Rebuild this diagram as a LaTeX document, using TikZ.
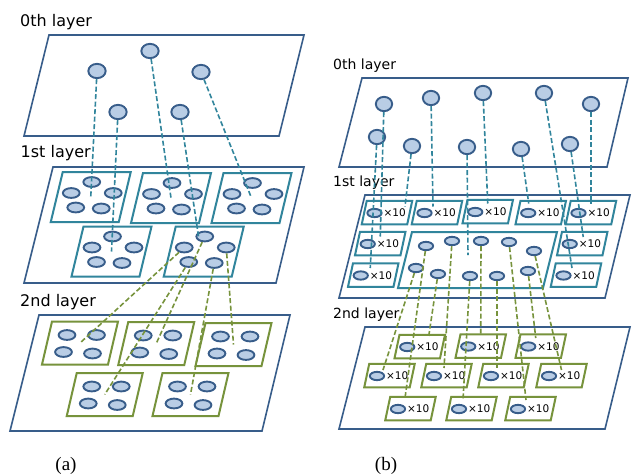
\documentclass[tikz,border=0pt]{standalone}
\usepackage{fontspec}
\setmainfont{DejaVu Sans}
\newfontfamily\capfont{Liberation Serif}
\usetikzlibrary{calc,shapes.geometric}

\definecolor{layerblue}{HTML}{385D8A}
\definecolor{ellfill}{HTML}{B9CDE5}
\definecolor{tealc}{HTML}{31859C}
\definecolor{greenc}{HTML}{77933C}

% parallelogram: #1 style, #2 name of centre, #3/#4 centre, #5 half width, #6 half height, #7 half slant
\newcommand{\plg}[7]{%
  \coordinate (#2) at (#3,#4);
  \draw[#1] ($(#2)+(-#5+#7,-#6)$) -- ($(#2)+(#5+#7,-#6)$) -- ($(#2)+(#5-#7,#6)$) -- ($(#2)+(-#5-#7,#6)$) -- cycle;}

% first-level group of five units
\newcommand{\fivegrp}[1]{%
  \node[smallell] (#1t) at ($(#1)+(1,-15)$) {};
  \node[smallell] (#1l) at ($(#1)+(-19.5,-4)$) {};
  \node[smallell] (#1r) at ($(#1)+(22.5,-4)$) {};
  \node[smallell] (#1a) at ($(#1)+(-15,10.5)$) {};
  \node[smallell] (#1b) at ($(#1)+(10.5,11.5)$) {};}

% second-level group of four units
\newcommand{\fourgrp}[1]{%
  \node[smallell] (#1p) at ($(#1)+(-13,-8)$) {};
  \node[smallell] (#1q) at ($(#1)+(16.5,-8)$) {};
  \node[smallell] (#1r) at ($(#1)+(-16.5,9)$) {};
  \node[smallell] (#1s) at ($(#1)+(12.5,10.5)$) {};}

% box holding one unit repeated ten times: #1 style, #2 name, #3/#4 centre
\newcommand{\tenbox}[4]{%
  \plg{#1}{#2}{#3}{#4}{22.75}{11.75}{2.5}
  \node[tinyell] (#2e) at ($(#2)+(-12.5,0.5)$) {};
  \node[tenlbl] (#2n) at ($(#2e.east)+(0.8,0)$) {×10};}

\begin{document}
\begin{tikzpicture}[x=1pt,y=-1pt,
  layer/.style={draw=layerblue,line width=1.6pt,fill=white},
  tealbox/.style={draw=tealc,line width=2pt,fill=white},
  greenbox/.style={draw=greenc,line width=2pt,fill=white},
  unit/.style={ellipse,draw=layerblue,fill=ellfill,line width=1.9pt,inner sep=0pt},
  bigell/.style={unit,minimum width=17.3pt,minimum height=14.3pt},
  bigellb/.style={unit,minimum width=16.3pt,minimum height=14.3pt},
  smallell/.style={unit,minimum width=16.8pt,minimum height=9.8pt},
  tinyell/.style={unit,minimum width=14.3pt,minimum height=8.3pt},
  tenlbl/.style={anchor=west,inner sep=0pt,font=\fontsize{10.5}{12}\selectfont},
  lbla/.style={anchor=base west,inner sep=0pt,font=\fontsize{16}{19}\selectfont},
  lblb/.style={anchor=base west,inner sep=0pt,font=\fontsize{14}{17}\selectfont},
  caption/.style={anchor=base,inner sep=0pt,font=\capfont\fontsize{19}{22}\selectfont},
  tealdash/.style={draw=tealc,line width=1.6pt,dash pattern=on 5pt off 2.5pt},
  greendash/.style={draw=greenc,line width=1.6pt,dash pattern=on 5pt off 2.5pt}]
\useasboundingbox (0,0) rectangle (632,475);

% ---------------- (a) ----------------
\node[lbla] (la0) at (20,26) {0th layer};
\node[lbla] (la1) at (20.5,157.5) {1st layer};
\node[lbla] (la2) at (20,306) {2nd layer};
\node[caption] (capa) at (66,470) {(a)};

\draw[layer] (49,35) -- (304,35) -- (279,136) -- (24,136) -- cycle;
\node[bigell] (a0a) at (150,51) {};
\node[bigell] (a0b) at (97,71) {};
\node[bigell] (a0c) at (201,72) {};
\node[bigell] (a0d) at (118,112) {};
\node[bigell] (a0e) at (180,112) {};

\draw[layer] (53,167) -- (304,167) -- (276,283) -- (24,283) -- cycle;
\plg{tealbox}{s1}{90.75}{197}{34}{25}{6}
\plg{tealbox}{s2}{171}{198}{34}{25}{6}
\plg{tealbox}{s3}{251.5}{198}{34}{25}{6}
\plg{tealbox}{s4}{111.5}{251.5}{34}{25}{6}
\plg{tealbox}{s5}{203.75}{251.5}{34}{25}{6}
\fivegrp{s1}\fivegrp{s2}\fivegrp{s3}\fivegrp{s4}\fivegrp{s5}

\draw[layer] (39,315) -- (290,315) -- (262,431) -- (10,431) -- cycle;
\plg{greenbox}{g1}{80}{343}{33}{21.5}{5}
\plg{greenbox}{g2}{156.25}{343.5}{33}{21.5}{5}
\plg{greenbox}{g3}{233.5}{344.5}{33}{21.5}{5}
\plg{greenbox}{g4}{104.75}{394.5}{33}{21.5}{5}
\plg{greenbox}{g5}{190.5}{394.5}{33}{21.5}{5}
\fourgrp{g1}\fourgrp{g2}\fourgrp{g3}\fourgrp{g4}\fourgrp{g5}

\coordinate (s5k) at ($(s5)+(-5,-13.5)$);
\draw[tealdash] (a0b) -- (s1);
\draw[tealdash] (a0d) -- (s4);
\draw[tealdash] (a0a) -- (s2);
\draw[tealdash] (a0e) -- (s5k);
\draw[tealdash] (a0c) -- (s3);

\draw[greendash] (s5t) -- (g2);
\draw[greendash] (s5l) -- (g1);
\draw[greendash] (s5a) -- (g4);
\draw[greendash] (s5b) -- (g5);
\draw[greendash] (s5r) -- (g3);

% ---------------- (b) ----------------
\node[lblb] (lb0) at (333,69.5) {0th layer};
\node[lblb] (lb1) at (333,186.5) {1st layer};
\node[lblb] (lb2) at (333,318) {2nd layer};
\node[caption] (capb) at (386,470) {(b)};

\draw[layer] (362,78) -- (628,78) -- (607,167) -- (339,167) -- cycle;
\node[bigellb] (t1) at (384,104) {};
\node[bigellb] (t2) at (431,98) {};
\node[bigellb] (t3) at (483,93) {};
\node[bigellb] (t4) at (544,93) {};
\node[bigellb] (t5) at (591,104) {};
\node[bigellb] (u1) at (377,137) {};
\node[bigellb] (u2) at (412,146) {};
\node[bigellb] (u3) at (467,147) {};
\node[bigellb] (u4) at (521,149) {};
\node[bigellb] (u5) at (570,144) {};

\draw[layer] (365,195) -- (630,195) -- (605,298) -- (339,298) -- cycle;
\tenbox{tealbox}{A1}{387}{212.5}
\tenbox{tealbox}{A2}{437}{212.5}
\tenbox{tealbox}{A3}{487.75}{211.5}
\tenbox{tealbox}{A4}{540.75}{212.5}
\tenbox{tealbox}{A5}{591}{212.5}
\tenbox{tealbox}{B1}{380.25}{243.5}
\tenbox{tealbox}{B2}{582.25}{243.5}
\tenbox{tealbox}{C1}{373.25}{275}
\tenbox{tealbox}{C2}{576}{275}
\plg{tealbox}{BB}{477.5}{260}{72.5}{28}{7}
\node[tinyell] (e1) at (426,246) {};
\node[tinyell] (e2) at (452,241) {};
\node[tinyell] (e3) at (481,241) {};
\node[tinyell] (e4) at (509,242) {};
\node[tinyell] (e5) at (534,251) {};
\node[tinyell] (e6) at (416,268) {};
\node[tinyell] (e7) at (438,274) {};
\node[tinyell] (e8) at (470,276) {};
\node[tinyell] (e9) at (497,276) {};
\node[tinyell] (e10) at (528,271) {};

\draw[layer] (365,327) -- (630,327) -- (605,429) -- (339,429) -- cycle;
\tenbox{greenbox}{D1}{419.75}{346.5}
\tenbox{greenbox}{D2}{480.75}{346}
\tenbox{greenbox}{D3}{540.75}{346}
\tenbox{greenbox}{E1}{389.5}{375.5}
\tenbox{greenbox}{E2}{446.5}{375.5}
\tenbox{greenbox}{E3}{503.5}{375.5}
\tenbox{greenbox}{E4}{561.5}{375.5}
\tenbox{greenbox}{F1}{410.5}{408.5}
\tenbox{greenbox}{F2}{471.5}{408.5}
\tenbox{greenbox}{F3}{530.5}{408.5}

% ends of the links into the first level
\coordinate (kC1) at ($(C1)+(-3,-7)$);
\coordinate (kB1) at ($(B1)+(0,-7)$);
\coordinate (kA1) at ($(A1)+(18,-6)$);
\coordinate (kA2) at ($(A2)+(-4,-6)$);
\coordinate (kBB) at ($(BB)+(-9.5,-5)$);
\coordinate (kA3) at ($(A3)+(0,-8)$);
\coordinate (kA4) at ($(A4)+(-12,-9)$);
\coordinate (kC2) at ($(C2)+(-4,-7)$);
\coordinate (kB2) at ($(B2)+(1,-6.5)$);
\coordinate (kA5) at ($(A5)+(0,-8.5)$);
\draw[tealdash] (u1) -- (kC1);
\draw[tealdash] (t1) -- (kB1);
\draw[tealdash] (u2) -- (kA1);
\draw[tealdash] (t2) -- (kA2);
\draw[tealdash] (u3) -- (kBB);
\draw[tealdash] (t3) -- (kA3);
\draw[tealdash] (u4) -- (kA4);
\draw[tealdash] (t4) -- (kC2);
\draw[tealdash] (u5) -- (kB2);
\draw[tealdash] (t5) -- (kA5);

% ends of the links into the second level
\coordinate (kE1) at ($(E1)+(-6.5,-5.5)$);
\coordinate (kF1) at ($(F1)+(-5.5,-10.5)$);
\coordinate (kD1) at ($(D1)+(9,-10.5)$);
\coordinate (kE2) at ($(E2)+(-2.5,-7.5)$);
\coordinate (kF2) at ($(F2)+(-8.5,-8.5)$);
\coordinate (kD2) at ($(D2)+(0,-11)$);
\coordinate (kE3) at ($(E3)+(-6.5,-7.5)$);
\coordinate (kF3) at ($(F3)+(-4.5,-8.5)$);
\coordinate (kD3) at ($(D3)+(-5,-8)$);
\coordinate (kE4) at ($(E4)+(0,-5.5)$);
\draw[greendash] (e6) -- (kE1);
\draw[greendash] (e1) -- (kF1);
\draw[greendash] (e7) -- (kD1);
\draw[greendash] (e2) -- (kE2);
\draw[greendash] (e8) -- (kF2);
\draw[greendash] (e3) -- (kD2);
\draw[greendash] (e9) -- (kE3);
\draw[greendash] (e4) -- (kF3);
\draw[greendash] (e10) -- (kD3);
\draw[greendash] (e5) -- (kE4);
\end{tikzpicture}
\end{document}
